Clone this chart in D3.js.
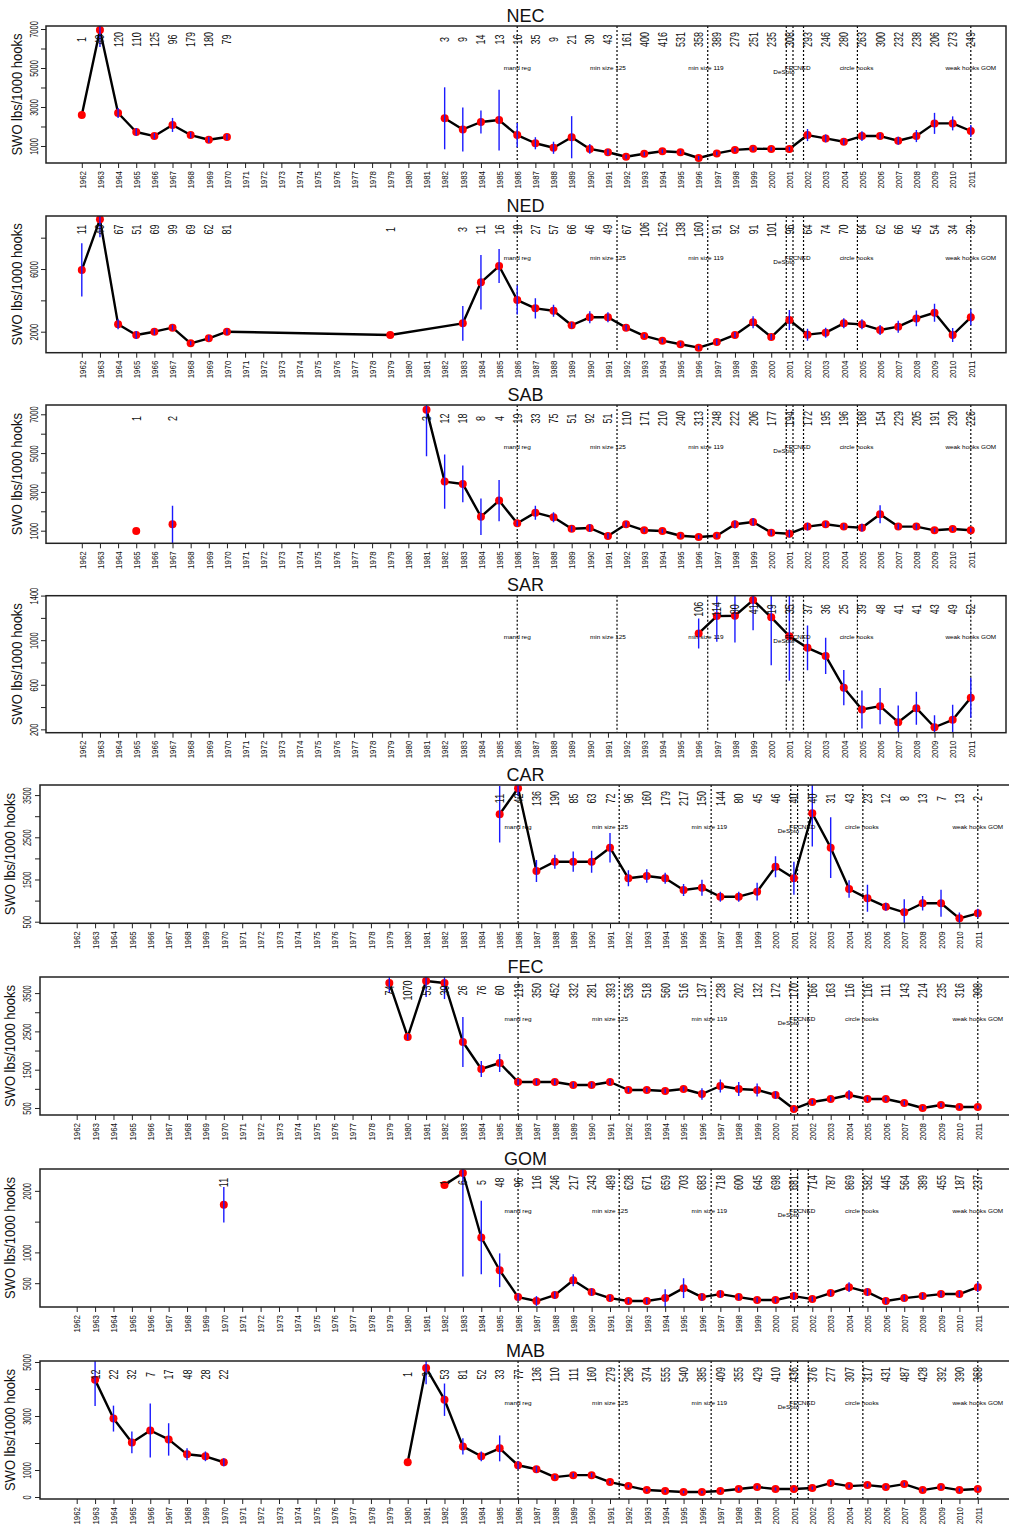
<!DOCTYPE html>
<html><head><meta charset="utf-8">
<script src="https://cdn.jsdelivr.net/npm/d3@7"></script>
<style>body{margin:0;background:#fff}</style>
</head><body>
<svg id="c" width="1009" height="1528" xmlns="http://www.w3.org/2000/svg"></svg>
<script>
const N = null;
const yearLabels = ["1962","1963","1964","1965","1966","1967","1968","1969","1970","1971","1972","1973","1974","1975","1976","1977","1978","1979","1980","1981","1982","1983","1984","1985","1986","1987","1988","1989","1990","1991","1992","1993","1994","1995","1996","1997","1998","1999","2000","2001","2002","2003","2004","2005","2006","2007","2008","2009","2010","2011"];
const panelNames = ["NEC","NED","SAB","SAR","CAR","FEC","GOM","MAB"];
const yTitle = "SWO lbs/1000 hooks";

// ---- NEC ----
const necValues = [2590,6950,2690,1720,1510,2080,1560,1320,1460, N,N,N,N,N,N,N,N,N,N,N,
  2420,1850,2230,2330,1560,1140,910,1450,850,680,450,600,730,680,385,620,800,860,850,850,1560,1390,1220,1510,1510,1270,1510,2160,2160,1770];
const necErr = [0,870,260,200,150,360,150,150,150, N,N,N,N,N,N,N,N,N,N,N,
  1590,1130,590,1560,620,310,310,1080,250,150,100,100,100,100,100,100,100,100,100,100,310,200,150,250,150,200,310,540,360,310];
const necCounts = [1,40,120,110,125,96,179,180,79, N,N,N,N,N,N,N,N,N,N,N,
  3,9,14,13,16,35,9,21,30,43,161,400,416,531,358,389,279,251,235,308,293,246,280,263,300,232,238,206,273,249];

// ---- NED ----
const nedValues = [5940,9170,2470,1790,2000,2260,1260,1580,2000, N,N,N,N,N,N,N,N, 1790, N,N,N,
  2535,5150,6190,4020,3490,3340,2410,2920,2920,2260,1730,1430,1200,980,1340,1790,2600,1660,2750,1810,1940,2535,2470,2110,2320,2850,3210,1790,2920];
const nedErr = [1700,1150,320,255,190,190,130,190,190, N,N,N,N,N,N,N,N, 0, N,N,N,
  1110,1740,1085,925,640,380,190,380,320,190,130,130,130,130,190,190,380,190,640,380,320,320,320,320,380,510,575,450,510];
const nedCounts = [11,40,67,51,69,99,69,62,81, N,N,N,N,N,N,N,N, 1, N,N,N,
  3,11,16,18,27,57,66,46,49,67,106,152,138,160,91,92,91,101,96,64,74,70,84,62,66,45,54,34,39];

// ---- SAB ----
const sabValues = [N,N,N,990,N,1330, N,N,N,N,N,N,N,N,N,N,N,N,N,
  7240,3530,3410,1720,2550,1380,1930,1690,1100,1140,730,1330,1020,985,740,675,740,1330,1450,900,845,1210,1330,1210,1155,1845,1210,1210,1020,1090,1020];
const sabErr = [N,N,N,0,N,960, N,N,N,N,N,N,N,N,N,N,N,N,N,
  2400,1400,945,945,1060,150,360,260,150,200,150,150,100,100,100,100,100,200,200,150,200,200,150,150,200,460,150,150,100,100,100];
const sabCounts = [N,N,N,1,N,2, N,N,N,N,N,N,N,N,N,N,N,N,N,
  3,12,18,8,4,19,33,75,51,92,51,110,171,210,240,313,248,222,206,177,194,172,195,196,168,154,229,205,191,230,226];

// ---- SAR ----
const sarValues = [N,N,N,N,N,N,N,N,N,N,N,N,N,N,N,N,N,N,N,N,N,N,N,N,N,N,N,N,N,N,N,N,N,N,
  1060,1216,1219,1360,1205,1036,931,859,574,378,408,264,390,219,286,484];
const sarErr = [N,N,N,N,N,N,N,N,N,N,N,N,N,N,N,N,N,N,N,N,N,N,N,N,N,N,N,N,N,N,N,N,N,N,
  135,230,240,270,430,400,200,162,158,170,162,150,148,108,135,180];
const sarCounts = [N,N,N,N,N,N,N,N,N,N,N,N,N,N,N,N,N,N,N,N,N,N,N,N,N,N,N,N,N,N,N,N,N,N,
  106,114,80,41,19,35,37,36,25,39,48,41,41,43,49,52];

// ---- CAR ----
const carValues = [N,N,N,N,N,N,N,N,N,N,N,N,N,N,N,N,N,N,N,N,N,N,N,
  3045,3661,1701,1922,1922,1922,2254,1528,1583,1528,1251,1306,1092,1092,1211,1803,1528,3069,2254,1275,1054,856,723,936,936,580,699];
const carErr = [N,N,N,N,N,N,N,N,N,N,N,N,N,N,N,N,N,N,N,N,N,N,N,
  670,190,260,165,240,260,350,190,160,130,140,190,120,120,210,250,390,790,720,210,320,95,310,170,320,140,107];
const carCounts = [N,N,N,N,N,N,N,N,N,N,N,N,N,N,N,N,N,N,N,N,N,N,N,
  11,42,136,190,85,63,72,96,160,179,217,150,144,80,45,46,40,40,31,43,23,12,8,13,7,13,2];

// ---- FEC ----
const fecValues = [N,N,N,N,N,N,N,N,N,N,N,N,N,N,N,N,N,
  3764,2354,3816,3764,2223,1518,1675,1179,1179,1179,1100,1100,1179,970,970,944,996,865,1074,996,970,840,474,657,735,840,735,735,630,500,578,526,526];
const fecErr = [N,N,N,N,N,N,N,N,N,N,N,N,N,N,N,N,N,
  260,80,420,420,650,210,235,80,80,80,70,70,80,60,60,60,60,150,170,180,170,100,60,60,60,130,60,60,60,50,50,40,40];
const fecCounts = [N,N,N,N,N,N,N,N,N,N,N,N,N,N,N,N,N,
  74,1070,53,30,26,76,60,119,350,452,332,281,393,536,518,560,516,137,238,202,132,172,170,166,163,116,116,111,143,214,235,316,308];

// ---- GOM ----
const gomValues = [N,N,N,N,N,N,N,N, 1774, N,N,N,N,N,N,N,N,N,N,N,
  2097,2290,1242,710,274,210,306,548,355,258,210,210,258,419,274,323,274,226,226,290,242,339,435,355,210,258,290,323,323,435];
const gomErr = [N,N,N,N,N,N,N,N, 290, N,N,N,N,N,N,N,N,N,N,N,
  0,1680,597,274,60,80,60,97,60,50,40,50,145,161,60,60,50,40,40,60,40,50,80,60,50,50,50,50,50,80];
const gomCounts = [N,N,N,N,N,N,N,N, 11, N,N,N,N,N,N,N,N,N,N,N,
  1,6,5,48,96,116,246,217,243,489,628,671,659,703,683,718,600,645,698,681,714,787,869,582,445,564,389,455,187,237];

// ---- MAB ----
const mabValues = [N, 4338,2904,2022,2463,2132,1581,1507,1287, N,N,N,N,N,N,N,N,N,
  1287,4779,3603,1875,1507,1801,1176,1029,735,809,809,551,404,257,221,184,184,221,294,368,294,294,331,515,404,441,368,478,257,368,257,294];
const mabErr = [N, 970,480,400,1000,600,220,180,150, N,N,N,N,N,N,N,N,N,
  0,600,600,300,180,480,150,120,80,80,80,60,50,50,50,50,50,50,60,60,60,60,60,80,60,60,60,60,60,60,60,60];
const mabCounts = [N, 12,22,32,7,17,48,28,22, N,N,N,N,N,N,N,N,N,
  1,3,53,81,52,33,77,136,110,111,160,279,296,374,555,540,385,409,355,429,410,436,376,277,307,317,431,487,428,392,390,368];

// y-axis ticks and the subset that carries labels
const yTicksNEC = [1000,2000,3000,4000,5000,6000,7000], yLabNEC = [1000,3000,5000,7000];
const yTicksNED = [2000,4000,6000,8000], yLabNED = [2000,6000];
const yTicksSAB = [1000,2000,3000,4000,5000,6000,7000], yLabSAB = [1000,3000,5000,7000];
const yTicksSAR = [200,400,600,800,1000,1200,1400], yLabSAR = [200,600,1000,1400];
const yTicksCAR = [500,1000,1500,2000,2500,3000,3500], yLabCAR = [500,1500,2500,3500];
const yTicksFEC = [500,1000,1500,2000,2500,3000,3500], yLabFEC = [500,1500,2500,3500];
const yTicksGOM = [500,1000,1500,2000], yLabGOM = [500,1000,2000];
const yTicksMAB = [0,1000,2000,3000,4000,5000], yLabMAB = [0,1000,3000,5000];

// y-axis ranges (value at bottom / top of each box)
const yRangeNEC = [128,7154], yRangeNED = [660,9383], yRangeSAB = [350,7479], yRangeSAR = [170,1399];
const yRangeCAR = [462,3739], yRangeFEC = [317,3920], yRangeGOM = [113,2355], yRangeMAB = [-74,5037];

// management events (vertical dotted lines and their labels)
const regLineYears = [1986, 1991.5, 1996.5, 2000.83, 2001.2, 2001.78, 2004.75, 2011];
const regLabels = ["mand reg","min size 125","min size 119","DeSoto","FEC","NED","circle hooks","weak hooks GOM"];
const regLabelYears = [1986, 1991, 1996.4, 2000.7, 2001.1, 2001.8, 2004.7, 2011];
const regLabelLow = [0,0,0,1,0,0,0,0];

// ---------- build ----------
const panels = [
  {name:"NEC", v:necValues, e:necErr, n:necCounts, ticks:yTicksNEC, labs:yLabNEC, dom:yRangeNEC, bridge:false},
  {name:"NED", v:nedValues, e:nedErr, n:nedCounts, ticks:yTicksNED, labs:yLabNED, dom:yRangeNED, bridge:true},
  {name:"SAB", v:sabValues, e:sabErr, n:sabCounts, ticks:yTicksSAB, labs:yLabSAB, dom:yRangeSAB, bridge:false},
  {name:"SAR", v:sarValues, e:sarErr, n:sarCounts, ticks:yTicksSAR, labs:yLabSAR, dom:yRangeSAR, bridge:false},
  {name:"CAR", v:carValues, e:carErr, n:carCounts, ticks:yTicksCAR, labs:yLabCAR, dom:yRangeCAR, bridge:false},
  {name:"FEC", v:fecValues, e:fecErr, n:fecCounts, ticks:yTicksFEC, labs:yLabFEC, dom:yRangeFEC, bridge:false},
  {name:"GOM", v:gomValues, e:gomErr, n:gomCounts, ticks:yTicksGOM, labs:yLabGOM, dom:yRangeGOM, bridge:false},
  {name:"MAB", v:mabValues, e:mabErr, n:mabCounts, ticks:yTicksMAB, labs:yLabMAB, dom:yRangeMAB, bridge:false}
];

// layout (pixel geometry of each panel)
const A = {left:46, right:1006, x0:81.8, x1:970.8, yLab:34, yTit:16.7};
const B = {left:40, right:1012, x0:76.7, x1:977.8, yLab:27, yTit:10};
const layout = [
  Object.assign({top:26, bottom:163}, A),
  Object.assign({top:216, bottom:352.7}, A),
  Object.assign({top:405, bottom:543.3}, A),
  Object.assign({top:595.7, bottom:732.7, yearClip:754}, A),
  Object.assign({top:785, bottom:923.3}, B),
  Object.assign({top:977, bottom:1115}, B),
  Object.assign({top:1169, bottom:1307}, B),
  Object.assign({top:1361, bottom:1499, yearClip:1522}, B)
];

const font = "'Liberation Sans', Arial, Helvetica, sans-serif";
const svg = d3.select("#c").style("font-family", font);
const defs = svg.append("defs");

panels.forEach((p, i) => {
  const L = layout[i];
  const x = d3.scaleLinear().domain([1962, 2011]).range([L.x0, L.x1]);
  const y = d3.scaleLinear().domain(p.dom).range([L.bottom, L.top]);
  const H = L.bottom - L.top;
  const g = svg.append("g");

  defs.append("clipPath").attr("id", "clip" + i).append("rect")
    .attr("x", L.left).attr("y", L.top).attr("width", L.right - L.left).attr("height", H);

  const pts = yearLabels.map((yr, k) => ({year: +yr, v: p.v[k], e: p.e[k], n: p.n[k]}));
  const has = pts.filter(d => d.v != null);
  const plot = g.append("g").attr("clip-path", `url(#clip${i})`);

  // regulation lines
  plot.selectAll("line.reg").data(regLineYears).join("line")
    .attr("x1", d => x(d)).attr("x2", d => x(d))
    .attr("y1", L.top).attr("y2", L.bottom)
    .attr("stroke", "#000").attr("stroke-width", 1.2).attr("stroke-dasharray", "2,2");

  // series line
  const line = d3.line().x(d => x(d.year)).y(d => y(d.v));
  if (p.bridge) {
    plot.append("path").datum(has).attr("d", line);
  } else {
    plot.append("path").datum(pts).attr("d", line.defined(d => d.v != null));
  }
  plot.selectAll("path").attr("fill", "none").attr("stroke", "#000")
    .attr("stroke-width", 2.4).attr("stroke-linejoin", "round");

  // points
  plot.selectAll("circle").data(has).join("circle")
    .attr("cx", d => x(d.year)).attr("cy", d => y(d.v)).attr("r", 4)
    .attr("fill", "#ff0000");

  // error bars
  plot.selectAll("line.err").data(has.filter(d => d.e > 0)).join("line")
    .attr("class", "err")
    .attr("x1", d => x(d.year)).attr("x2", d => x(d.year))
    .attr("y1", d => y(d.v - d.e)).attr("y2", d => y(d.v + d.e))
    .attr("stroke", "#1a1aff").attr("stroke-width", 1.4);

  // regulation labels
  g.selectAll("text.reg").data(regLabels).join("text")
    .attr("transform", (d, k) => `translate(${x(regLabelYears[k])},${L.top + 0.305 * H + 2 + regLabelLow[k] * 4}) scale(1,0.7)`)
    .attr("text-anchor", "middle").attr("font-size", 6.4).attr("fill", "#000")
    .text(d => d);

  // sample size labels
  g.selectAll("text.cnt").data(pts.filter(d => d.n != null)).join("text")
    .attr("transform", d => `translate(${x(d.year)},${L.top + 13.5}) rotate(-90) scale(0.72,1)`)
    .attr("dy", "0.36em").attr("text-anchor", "middle")
    .attr("font-size", 12.5).attr("fill", "#111")
    .text(d => d.n);

  // box
  g.append("rect").attr("x", L.left).attr("y", L.top)
    .attr("width", L.right - L.left).attr("height", H)
    .attr("fill", "none").attr("stroke", "#222").attr("stroke-width", 1.5);

  // x axis
  if (L.yearClip) {
    defs.append("clipPath").attr("id", "yclip" + i).append("rect")
      .attr("x", 0).attr("y", 0).attr("width", 1009).attr("height", L.yearClip);
  }
  const xa = g.append("g").attr("transform", `translate(0,${L.bottom})`)
    .call(d3.axisBottom(x).tickValues(yearLabels.map(Number)).tickFormat(d3.format("d")).tickSize(5).tickSizeOuter(0));
  if (L.yearClip) xa.attr("clip-path", `url(#yclip${i})`);
  xa.select(".domain").remove();
  xa.selectAll(".tick line").attr("stroke", "#222");
  xa.selectAll(".tick text")
    .attr("x", 0).attr("y", 0).attr("dy", "0.36em")
    .attr("transform", "translate(0,8) rotate(-90) scale(0.88,1)")
    .attr("text-anchor", "end").attr("font-size", 9).attr("fill", "#111")
    .attr("font-family", font);

  // y axis
  const ya = g.append("g").attr("transform", `translate(${L.left},0)`)
    .call(d3.axisLeft(y).tickValues(p.ticks).tickFormat(d => p.labs.includes(d) ? String(d) : "").tickSize(5).tickSizeOuter(0));
  ya.select(".domain").remove();
  ya.selectAll(".tick line").attr("stroke", "#222");
  ya.selectAll(".tick text")
    .attr("x", 0).attr("y", 0).attr("dy", "0.36em")
    .attr("transform", `translate(${L.yLab - L.left},0) rotate(-90) scale(0.75,1)`)
    .attr("text-anchor", "middle").attr("font-size", 10).attr("fill", "#111")
    .attr("font-family", font);

  // y title
  g.append("text")
    .attr("transform", `translate(${L.yTit},${(L.top + L.bottom) / 2}) rotate(-90) scale(0.93,1)`)
    .attr("dy", "0.36em").attr("text-anchor", "middle").attr("font-size", 14).attr("fill", "#111")
    .text(yTitle);

  // panel title
  g.append("text").attr("x", 525.5).attr("y", L.top - 4.5)
    .attr("text-anchor", "middle").attr("font-size", 18).attr("fill", "#111")
    .text(p.name);
});
</script>
</body></html>
